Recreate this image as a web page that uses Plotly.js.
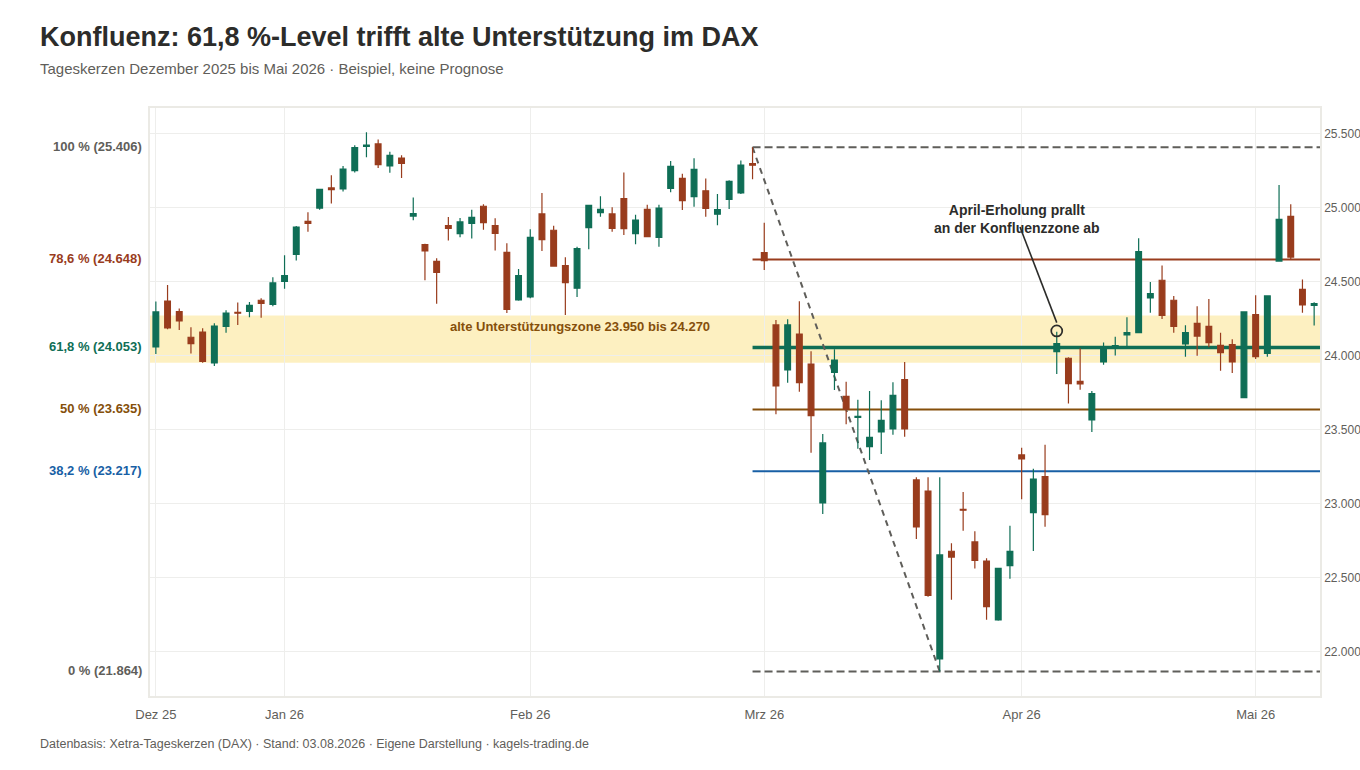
<!DOCTYPE html>
<html>
<head>
<meta charset="utf-8">
<script src="https://cdn.plot.ly/plotly-3.0.1.min.js"></script>
<style>
  html, body { margin: 0; padding: 0; background: #fff; }
</style>
</head>
<body>
<div id="chart" style="width:1360px;height:770px;"></div>
<script>
const titleText = 'Konfluenz: 61,8 %-Level trifft alte Unterstützung im DAX'
const subtitleText = 'Tageskerzen Dezember 2025 bis Mai 2026 · Beispiel, keine Prognose'
const sourceText = 'Datenbasis: Xetra-Tageskerzen (DAX) · Stand: 03.08.2026 · Eigene Darstellung · kagels-trading.de'

// one entry per trading day, x is the running candle number
const opens = [24057, 24368, 24296, 24123, 24158, 23949, 24197, 24292, 24298, 24373,
  24345, 24501, 24683, 24906, 24996, 25132, 25125, 25249, 25413, 25429,
  25280, 25334, 24942, 24749, 24636, 24877, 24823, 24893, 25008, 24877,
  24697, 24375, 24395, 24956, 24846, 24607, 24454, 24864, 24965, 24956,
  25059, 24823, 24987, 24798, 25129, 25197, 25073, 25113, 24954, 25055,
  25098, 25296, 24695, 24206, 23902, 24145, 23942, 23003, 23886, 23724,
  23582, 23384, 23483, 23503, 23837, 23159, 23084, 21949, 22677, 22961,
  22740, 22611, 22213, 22580, 23328, 22938, 23181, 24026, 23981, 23825,
  23564, 23956, 24060, 24139, 24154, 24389, 24508, 24373, 24078, 24217,
  24197, 24068, 24073, 23715, 24276, 24014, 24638, 24940, 24447, 24339]
const highs = [24364, 24476, 24318, 24190, 24183, 24217, 24305, 24357, 24361, 24386,
  24528, 24677, 24875, 24967, 25125, 25217, 25280, 25420, 25508, 25460,
  25377, 25352, 25068, 24755, 24656, 24936, 24929, 24985, 25021, 24927,
  24758, 24584, 24852, 25098, 24877, 24663, 24735, 25014, 25075, 25001,
  25237, 24951, 25019, 25019, 25314, 25228, 25332, 25195, 25091, 25183,
  25318, 25406, 24897, 24240, 24244, 24366, 24028, 23469, 24042, 23823,
  23701, 23760, 23697, 23819, 23956, 23177, 23177, 23177, 22731, 23078,
  22812, 22629, 22562, 22850, 23377, 23235, 23397, 24161, 23988, 24048,
  23760, 24087, 24127, 24258, 24792, 24497, 24607, 24402, 24204, 24332,
  24381, 24154, 24109, 24294, 24406, 24402, 25152, 25021, 24514, 24359]
const lows = [24010, 24177, 24172, 24014, 23951, 23929, 24154, 24206, 24258, 24255,
  24332, 24451, 24641, 24836, 24985, 25026, 25107, 25237, 25339, 25267,
  25235, 25199, 24913, 24508, 24350, 24776, 24798, 24791, 24850, 24710,
  24287, 24370, 24386, 24706, 24604, 24274, 24395, 24717, 24938, 24836,
  24814, 24751, 24798, 24735, 25102, 24983, 25005, 24938, 24879, 24990,
  25091, 25190, 24578, 23602, 23816, 23755, 23343, 22929, 23767, 23535,
  23370, 23294, 23334, 23465, 23451, 22760, 22370, 21864, 22350, 22816,
  22560, 22215, 22208, 22492, 23028, 22679, 22843, 23875, 23675, 23769,
  23483, 23938, 24000, 24060, 24150, 24289, 24247, 24154, 23992, 23998,
  24055, 23897, 23881, 23715, 23976, 23992, 24638, 24652, 24289, 24203]
const closes = [24294, 24186, 24233, 24080, 23960, 24199, 24287, 24285, 24338, 24352,
  24490, 24539, 24868, 24893, 25123, 25120, 25260, 25404, 25422, 25289,
  25352, 25298, 24958, 24706, 24562, 24859, 24902, 24933, 24897, 24825,
  24312, 24539, 24798, 24782, 24604, 24492, 24722, 25014, 24987, 24859,
  24857, 24915, 24803, 24996, 25278, 25046, 25258, 24994, 24985, 25177,
  25287, 25286, 24641, 23794, 24206, 23816, 23593, 23409, 23969, 23638,
  23589, 23447, 23562, 23731, 23503, 22841, 22379, 22652, 22638, 22954,
  22616, 22303, 22562, 22677, 23301, 23165, 22924, 24080, 23810, 23807,
  23742, 24060, 24066, 24154, 24702, 24418, 24271, 24197, 24154, 24131,
  24086, 24019, 23956, 24294, 23992, 24402, 24920, 24665, 24341, 24350]

const monthTicks = [0, 11, 32, 52, 74, 94]
const monthLabels = ['Dez 25', 'Jan 26', 'Feb 26', 'Mrz 26', 'Apr 26', 'Mai 26']
const priceTicks = [22000, 22500, 23000, 23500, 24000, 24500, 25000, 25500]

const fibValues = [25406, 24648, 24053, 23635, 23217, 21864]
const fibLabels = ['100 % (25.406)', '78,6 % (24.648)', '61,8 % (24.053)', '50 % (23.635)', '38,2 % (23.217)', '0 % (21.864)']
const fibColors = ['#5f5e5a', '#993c1d', '#0f6e56', '#854f0b', '#185fa5', '#5f5e5a']
const fibWidths = [2, 2, 3.5, 2, 2, 2]
const fibDash = ['8px,4px', 'solid', 'solid', 'solid', 'solid', '8px,4px']

const fibStart = 51
const swingEnd = 67
const zoneLow = 23950
const zoneHigh = 24270
const zoneLabel = 'alte Unterstützungszone 23.950 bis 24.270'
const zoneLabelX = 36.25
const zoneLabelPrice = 24193
const noteText = 'April-Erholung prallt<br>an der Konfluenzzone ab'
const noteTextX = 73.6
const noteTextPrice = 24922
const noteLineX = [73.86, 77]
const noteLinePrice = [24868, 24222]
const noteX = 77
const notePrice = 24166

const FONT = '"Liberation Sans", Arial, sans-serif'
const xRange = [-0.5, 99.5]

// plot box in page pixels, used to place the texts outside of it
const plotLeft = 150, plotWidth = 1170, plotTop = 108, plotHeight = 588
const paperX = (px) => (px - plotLeft) / plotWidth
const paperY = (py) => (plotTop + plotHeight - py) / plotHeight

const candles = {
  type: 'candlestick',
  x: opens.map((o, i) => i),
  open: opens,
  high: highs,
  low: lows,
  close: closes,
  width: 0.6,
  whiskerwidth: 0,
  increasing: { line: { color: '#0f6e56', width: 1.2 }, fillcolor: '#0f6e56' },
  decreasing: { line: { color: '#993c1d', width: 1.2 }, fillcolor: '#993c1d' },
  hoverinfo: 'none',
  showlegend: false
}

const noteMarker = {
  type: 'scatter',
  mode: 'markers',
  x: [noteX],
  y: [notePrice],
  marker: { size: 11, color: 'rgba(0,0,0,0)', line: { color: '#2c2c2a', width: 1.7 } },
  hoverinfo: 'none',
  showlegend: false
}

// zone first, it has to sit under the level lines
let shapes = [{
  type: 'rect', layer: 'between', xref: 'paper', x0: 0, x1: 1, yref: 'y', y0: zoneLow, y1: zoneHigh,
  fillcolor: 'rgba(250,205,50,0.3)', line: { width: 0 }
}]
fibValues.forEach((v, i) => {
  shapes.push({
    type: 'line', layer: 'between', xref: 'x', yref: 'y', x0: fibStart, x1: xRange[1], y0: v, y1: v,
    line: { color: fibColors[i], width: fibWidths[i], dash: fibDash[i] }
  })
})
shapes.push({
  type: 'line', layer: 'between', xref: 'x', yref: 'y', x0: fibStart, x1: swingEnd, y0: fibValues[0], y1: fibValues[5],
  line: { color: '#5f5e5a', width: 2, dash: '6px,5px' }
})
shapes.push({
  type: 'line', layer: 'above', xref: 'x', yref: 'y', x0: noteLineX[0], x1: noteLineX[1], y0: noteLinePrice[0], y1: noteLinePrice[1],
  line: { color: '#2c2c2a', width: 1.6 }
})

let annotations = fibLabels.map((label, i) => ({
  xref: 'paper', yref: 'y', x: 0, y: fibValues[i], xshift: -6, yshift: 1, xanchor: 'right', yanchor: 'middle',
  text: '<b>' + label + '</b>', showarrow: false, font: { family: FONT, size: 13, color: fibColors[i] }
}))
annotations.push({
  xref: 'x', yref: 'y', x: zoneLabelX, y: zoneLabelPrice, text: '<b>' + zoneLabel + '</b>', showarrow: false,
  font: { family: FONT, size: 13, color: '#854f0b' }
})
annotations.push({
  xref: 'x', yref: 'y', x: noteTextX, y: noteTextPrice, text: '<b>' + noteText + '</b>', showarrow: false,
  font: { family: FONT, size: 14, color: '#2c2c2a' }
})
annotations.push({
  xref: 'paper', yref: 'paper', x: paperX(40), xshift: -2, y: paperY(69), xanchor: 'left', yanchor: 'middle',
  text: subtitleText, showarrow: false, font: { family: FONT, size: 15, color: '#5f5e5a' }
})
annotations.push({
  xref: 'paper', yref: 'paper', x: paperX(40), xshift: -2, y: paperY(744), xanchor: 'left', yanchor: 'middle',
  text: sourceText, showarrow: false, font: { family: FONT, size: 12.5, color: '#5f5e5a' }
})

const layout = {
  width: 1360,
  height: 770,
  paper_bgcolor: '#fff',
  plot_bgcolor: '#fff',
  separators: ',.',
  dragmode: false,
  showlegend: false,
  margin: { l: plotLeft, r: 40, t: plotTop, b: 74 },
  font: { family: FONT, color: '#5f5e5a' },
  title: {
    text: '<b>' + titleText + '</b>', xref: 'container', yref: 'container', x: 40 / 1360, xanchor: 'left',
    y: 1 - 37 / 770, yanchor: 'middle', font: { family: FONT, size: 27, color: '#2c2c2a' }
  },
  xaxis: {
    range: xRange, rangeslider: { visible: false }, tickmode: 'array', tickvals: monthTicks, ticktext: monthLabels,
    showgrid: true, gridcolor: '#eeeeec', gridwidth: 1, zeroline: false, showline: true, linecolor: '#ebeae5', linewidth: 1.5,
    mirror: true, ticks: '', ticklabelstandoff: 6, tickfont: { family: FONT, size: 13, color: '#5f5e5a' }
  },
  yaxis: {
    range: [21699, 25672], side: 'right', tickmode: 'array', tickvals: priceTicks, tickformat: ',d',
    showgrid: true, gridcolor: '#eeeeec', gridwidth: 1, zeroline: false, showline: true, linecolor: '#ebeae5', linewidth: 1.5,
    mirror: true, ticks: '', tickfont: { family: FONT, size: 12, color: '#5f5e5a' }
  },
  shapes: shapes,
  annotations: annotations
}

Plotly.newPlot('chart', [candles, noteMarker], layout, { displayModeBar: false, responsive: false })
</script>
</body>
</html>
